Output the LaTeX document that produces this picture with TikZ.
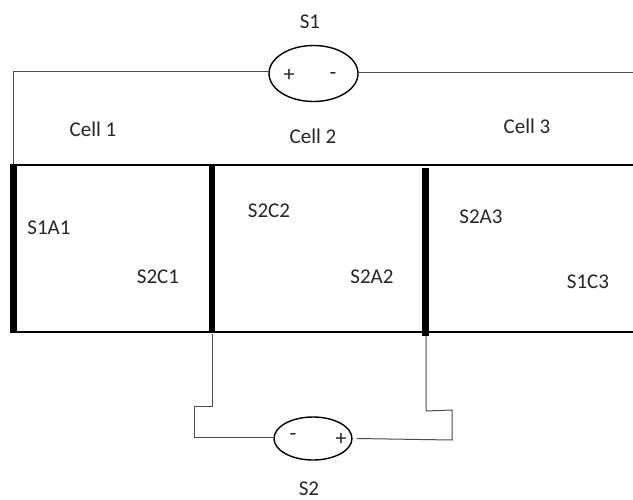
\documentclass[tikz,border=0pt]{standalone}
\usepackage{fontspec}
\setmainfont{Carlito}
\usetikzlibrary{shapes.geometric}
\begin{document}
\begin{tikzpicture}[x=1pt,y=-1pt,
  wire/.style={draw=black!70,line width=1pt},
  rail/.style={draw=black,line width=1.5pt},
  bar/.style={draw=black,line width=6.5pt},
  src/.style={ellipse,draw=black,line width=1.4pt,fill=white,inner sep=0pt},
  lab/.style={font=\fontsize{21}{23}\selectfont,text=black!85,inner sep=0pt},
  sign/.style={font=\fontsize{22}{24}\selectfont,text=black!85,inner sep=0pt}]
\useasboundingbox (0,0) rectangle (633,499);
\fill[white] (0,0) rectangle (633,499);
\coordinate (tl) at (13,71); \coordinate (tb) at (13,165);
\coordinate (tr) at (633,72);
\coordinate (c2b) at (212,334); \coordinate (c3b) at (426,336);
\coordinate (a1) at (212,406); \coordinate (a2) at (194,406); \coordinate (a3) at (194,437);
\coordinate (b1) at (426,411); \coordinate (b2) at (452,410); \coordinate (b3) at (452,440);
\node[src,minimum width=89,minimum height=56] (s1) at (313.5,73.5) {};
\node[src,minimum width=78,minimum height=43] (s2) at (313,438.5) {};
\draw[wire] (s1.west |- tl) -- (tl) -- (tb);
\draw[wire] (s1.east |- tr) -- (tr);
\draw[wire] (c2b) -- (a1) -- (a2) -- (a3) -- (s2.west |- a3);
\draw[wire] (c3b) -- (b1) -- (b2) -- (b3) -- ([xshift=4pt]s2.east);
\draw[rail] (10,165) -- (633,165);
\draw[rail] (10,332) -- (633,332);
\draw[bar] (13.5,165) -- (13.5,333);
\draw[bar] (212,165) -- (212,333);
\draw[bar] (425.5,168) -- (425.5,336);
\node[sign] (plus1) at (289,75) {+};
\node[sign] (minus1) at (333,76) {-};
\node[sign] (minus2) at (293,437) {-};
\node[sign] (plus2) at (341,439) {+};
\node[lab] (ts1) at (310,22) {S1};
\node[lab] (ts2) at (309,489) {S2};
\node[lab] (c1) at (93,129) {Cell 1};
\node[lab] (c2) at (313,136) {Cell 2};
\node[lab] (c3) at (527,126) {Cell 3};
\node[lab] (n1) at (49,228) {S1A1};
\node[lab] (n2) at (158,277) {S2C1};
\node[lab] (n3) at (269,211) {S2C2};
\node[lab] (n4) at (372,277) {S2A2};
\node[lab] (n5) at (481,217) {S2A3};
\node[lab] (n6) at (588,282) {S1C3};
\end{tikzpicture}
\end{document}
